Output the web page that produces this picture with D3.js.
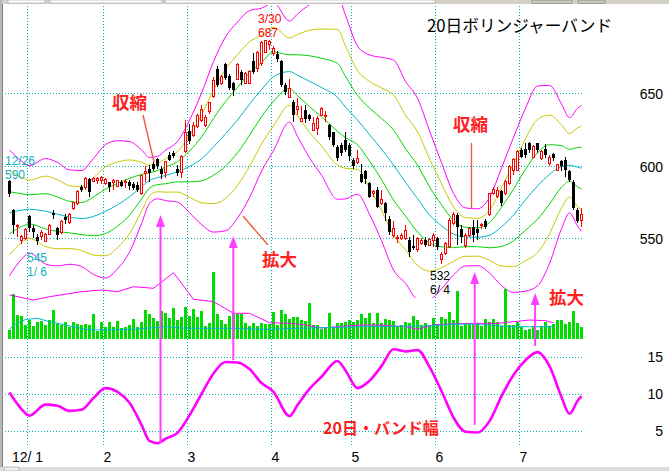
<!DOCTYPE html>
<html><head><meta charset="utf-8">
<script src="https://cdn.jsdelivr.net/npm/d3@7/dist/d3.min.js"></script>
<style>html,body{margin:0;padding:0;background:#fff;overflow:hidden}</style>
</head><body>
<svg id="c" width="669" height="471"></svg>
<script>
// ---------- data ----------
const candleOpen = [589.5,569.5,558,548,550,565,557,551,551,547.5,
552.5,567.5,557,554,564.5,561,570.5,574,585,585,
590.5,589,589.5,590,588,588.5,588.5,585.5,589,588.5,
589,587.5,587,580.5,594.5,598,601,604.5,597.5,595,
607.5,609,598,595,609.5,624,621,627,631.5,628,
637.5,647.5,667,656.5,670.5,662,657,659.5,665,657,
657,672,667,670.5,678.5,683.5,677.5,677,672,656,
647,644,639,630.5,638.5,635,624.5,626,635,634,
628,623,613,614.5,617.5,614.5,604,602,594.5,596,
588,581,583,574,574,563.5,552,550,550,550,
548.5,544.5,542,546.5,548.5,545,548.5,550,535,539.5,
544,560,566,556.5,545,552,558,556.5,558.5,561.5,
566,580.5,578.5,582.5,581,588,597,597,611,611.5,
615.5,606,615.5,605,611.5,601.5,608,597,603,604,
596,589,569.5,562.5];
const candleHigh = [590,570,560,552,557,566,559,552.5,555.5,553.5,
559.5,569.5,558,562.5,566.5,567,575,583,586.5,592.5,
591.5,592.5,592.5,593,591.5,589,591,590,590,590.5,
590,589,588.5,593.5,599.5,600.5,603,605,600,603.5,
609.5,610,600.5,607.5,631.5,629,630.5,636,642,635,
644,661.5,669,662.5,671,663.5,658,671,666,665,
666,678,679,686,687,687,683,679,673,657,
660,645.5,646.5,641,642,635.5,633.5,634,640.5,637.5,
629,623.5,614.5,615.5,623.5,615.5,605,611,601.5,597,
589,583,585.5,583,575,565.5,561.5,552,553.5,559,
551,552,551,550,551,550,553.5,551,540.5,547.5,
564,568,567,559,553.5,558,562.5,562.5,560.5,563.5,
581,585.5,585,583.5,590,600.5,605,611,612,615.5,
616.5,614.5,616,610.5,615,607.5,609,601.5,604,606,
597,590,570.5,570.5];
const candleLow = [578.5,553,551,546,549,554,550,545,549,547,
552,563,549,553,560,560,569.5,573,582,583,
578.5,588.5,587.5,587.5,586.5,581.5,583,585,585,584.5,
583,583,582,580,588.5,589,596.5,598,590.5,591.5,
603,605,593,591.5,608.5,615,620,626,630.5,627,
636,646.5,654.5,655.5,659,652.5,648,659,655.5,656.5,
656.5,663.5,665,669,677.5,680,676,671.5,654.5,649,
646.5,630.5,635,630.5,629.5,631,624,621,634.5,630.5,
617.5,613,603,606.5,609.5,603.5,598,601.5,588,587.5,
577.5,578.5,570.5,573,561.5,552,550,546.5,548.5,548.5,
537,542,540.5,545,544,544.5,544,542,532,538.5,
543,559,545,546.5,543,551,547.5,548.5,556.5,556.5,
565,580,577.5,572,580,586.5,593.5,596,605,605,
608.5,606,608.5,604,605,600,603.5,596,596,592.5,
589,569.5,560.5,558];
const candleClose = [580.5,559,559,551,556,557,554,548,554,552.5,
559,566,552,561.5,562.5,566,574.5,582.5,583,591.5,
582,591.5,591,592,590.5,585,590,589.5,586,589,
586,584.5,583,593,596,595,598,599.5,594.5,603,
604,606.5,595,606.5,623,617,628,635,638.5,633.5,
643.5,659,655.5,661.5,660.5,653.5,652.5,670,659,664,
665,664.5,678,685,686.5,686,681,673.5,655.5,651,
653,635,641,632.5,632.5,632,629,632.5,639.5,635,
620,614.5,605,609,611,606.5,599.5,605,589,591,
578.5,582,571.5,576.5,567,554.5,556.5,550.5,552,555.5,
540.5,543.5,550,548.5,545,549,552,544,538.5,546.5,
562.5,566,557.5,551,552,556.5,552,553.5,559.5,558,
580.5,583.5,583,574,589,599.5,604.5,609.5,606,607.5,
611,613,611,609.5,607.5,606,605,600.5,600,597,
590,570.5,561.5,566];
const volume = [90,450,240,230,140,190,130,173,183,140,
190,290,157,140,170,123,170,150,137,150,
137,250,83,170,117,170,123,180,107,117,
140,200,117,170,290,250,207,180,280,257,
207,310,190,217,320,230,300,223,280,133,
160,673,250,190,147,230,263,247,247,163,
133,160,133,163,153,147,270,140,290,250,
200,223,220,190,183,363,140,140,97,123,
263,123,157,157,173,190,173,190,250,207,
263,157,257,157,197,190,183,117,140,173,
157,230,190,140,157,130,207,147,217,197,
273,190,480,130,163,150,150,163,130,197,
173,197,173,130,497,140,140,173,123,90,
97,130,90,130,173,130,147,190,190,150,
173,280,163,123];
// 20-day moving average and band width (%) read at these day indices
const bandIdx = [0,3,5,9,12,15,18,21,24,27,30,33,35,37,39,42,45,48,51,54,57,60,63,66,70,72,75,78,82,84,87,90,93,96,99,102,105,108,111,114,117,120,123,126,129,132,135,138,140,142,143];
const bandMid = [567.5,569.3,569.9,568.5,566.5,564.5,563.5,565,568.5,573,578.5,585.5,589.8,591.8,593.3,595.8,599.5,604.7,613,622,631.5,642.5,652.5,661.5,665,662.5,658.3,654,647.2,640.5,631.5,621.5,611.5,600.5,588.5,577.3,566,558.5,552.8,550.8,550.6,552,557.8,566,576.5,586,594,599.5,600.3,599,598.3];
const bandWidth = [10.2,7.95,7.05,8.55,8.4,7.7,7.85,9.45,10.8,10.3,8.8,5.8,3.6,3.3,3.9,4.7,7.1,10.0,12.8,14.35,14.3,13.4,11.5,10.3,7.0,8.5,10.7,12.35,14.5,13.2,10.8,11.8,13.8,16.1,15.8,16.0,13.7,10.4,6.8,4.85,4.75,6.3,9.7,12.6,14.6,15.7,13.8,9.6,7.3,9.05,9.7];
// volume average lines
const volMagIdx = [0,6,10,18,23,27,31,36,41,46,49,51,56,60,65,70,74,78,84,88,92,96,99,102,106,110,115,118,122,126,130,134,136];
const volMag = [440,390,423,473,490,473,523,507,663,397,383,373,257,257,163,157,140,110,130,140,140,130,123,97,140,150,157,157,157,173,190,183,163];
const volCyanIdx = [0,1,4,7,10,14,19,23,31,39,44,56,64,72,88,104,113,118,125,130,136];
const volCyan = [97,140,195,207,173,140,97,90,97,123,107,107,97,107,123,130,150,147,123,123,123];
// axes
const monthLabels = ["12/ 1","2","3","4","5","6","7"];
const monthStartIdx = [5,24,45,66,86,107,128];
const priceTicks = [550,600,650];
const bwTicks = [5,10,15];

// ---------- drawing ----------
const N = candleOpen.length;
const svg = d3.select("#c");
const x = d3.scaleLinear().domain([0,143]).range([9.5,581.5]);
const yP = d3.scaleLinear().domain([600,650]).range([165.7,93.3]);
const yB = d3.scaleLinear().domain([5,15]).range([430.7,357.3]);
const yV = d3.scaleLinear().domain([0,700]).range([339,269]);

svg.append("rect").attr("width",669).attr("height",471).attr("fill","#fff");

// window chrome
svg.append("rect").attr("x",0).attr("y",0).attr("width",669).attr("height",4).attr("fill","#d4d0c8");
[[8,37],[50,112],[165,270]].forEach(([a,w])=>svg.append("rect").attr("x",a).attr("y",0).attr("width",w).attr("height",3).attr("fill","#fff").attr("stroke","#a0a0a0").attr("stroke-width",0.6));
[[532,40],[578,27]].forEach(([a,w])=>svg.append("rect").attr("x",a).attr("y",0).attr("width",w).attr("height",3.5).attr("fill","#c8c4bc").attr("stroke","#808080").attr("stroke-width",0.6));
svg.append("rect").attr("x",0).attr("y",0).attr("width",2).attr("height",471).attr("fill","#b8b8b8");
svg.append("line").attr("x1",2.5).attr("x2",2.5).attr("y1",4).attr("y2",467).attr("stroke","#808080");
svg.append("rect").attr("x",0).attr("y",467).attr("width",669).attr("height",4).attr("fill","#dcdcdc");
svg.append("rect").attr("x",4).attr("y",467).attr("width",15).attr("height",4).attr("fill","#eee").attr("stroke","#999").attr("stroke-width",0.6);

// grid
const grid = svg.append("g").attr("stroke","#00b4b4").attr("stroke-dasharray","1,2").attr("stroke-width",1).attr("shape-rendering","crispEdges");
priceTicks.forEach(t=>{const yy=Math.round(yP(t))+0.5;grid.append("line").attr("x1",5).attr("x2",584).attr("y1",yy).attr("y2",yy);});
bwTicks.forEach(t=>{const yy=Math.round(yB(t))+0.5;grid.append("line").attr("x1",5).attr("x2",584).attr("y1",yy).attr("y2",yy);});
monthStartIdx.forEach(i=>{const xx=x(i-0.5);grid.append("line").attr("x1",xx).attr("x2",xx).attr("y1",6).attr("y2",447);});

// clip for price panel
svg.append("clipPath").attr("id","pc").append("rect").attr("x",4).attr("y",5).attr("width",582).attr("height",293);

// Bollinger bands
const bandsG = svg.append("g").attr("clip-path","url(#pc)").attr("fill","none").attr("stroke-width",1);
const bandDefs = [{k:3,c:"#ff00ff"},{k:2,c:"#c8c800"},{k:1,c:"#00d400"},{k:0,c:"#00b4c8"},{k:-1,c:"#00d400"},{k:-2,c:"#c8c800"},{k:-3,c:"#ff00ff"}];
const pLine = d3.line().x(d=>x(d[0])).y(d=>yP(d[1])).curve(d3.curveMonotoneX);
bandDefs.forEach(b=>{
  const pts = bandIdx.map((i,j)=>[i, bandMid[j] + b.k*bandWidth[j]*bandMid[j]/400]);
  bandsG.append("path").attr("d",pLine(pts)).attr("stroke",b.c);
});

// candles
const cg = svg.append("g").attr("shape-rendering","crispEdges");
d3.range(N).forEach(i=>{
  const o=candleOpen[i], c=candleClose[i], up=c>=o, col=up?"#ff0000":"#000000", cx=x(i);
  cg.append("line").attr("x1",cx).attr("x2",cx).attr("y1",yP(candleHigh[i])).attr("y2",yP(candleLow[i])).attr("stroke",col);
  const top=yP(Math.max(o,c)), bot=yP(Math.min(o,c)), h=Math.max(bot-top,1);
  if(up) cg.append("rect").attr("x",cx-1).attr("y",top).attr("width",2).attr("height",h).attr("fill","#fff").attr("stroke",col);
  else cg.append("rect").attr("x",cx-1.5).attr("y",top).attr("width",3).attr("height",h).attr("fill",col);
});

// volume
const vg = svg.append("g").attr("shape-rendering","crispEdges");
vg.selectAll("rect").data(volume).join("rect")
  .attr("x",(d,i)=>x(i)-1.5).attr("width",3)
  .attr("y",d=>yV(d)).attr("height",d=>yV(0)-yV(d)).attr("fill","#00dc00");
const vLine = d3.line().x(d=>x(d[0])).y(d=>yV(d[1]));
svg.append("path").attr("d",vLine(volMagIdx.map((i,j)=>[i,volMag[j]]))).attr("fill","none").attr("stroke","#ff00ff").attr("stroke-width",1);
svg.append("path").attr("d",vLine(volCyanIdx.map((i,j)=>[i,volCyan[j]]))).attr("fill","none").attr("stroke","#00b4d0").attr("stroke-width",1);

// band width line
const bLine = d3.line().x(d=>x(d[0])).y(d=>yB(d[1])).curve(d3.curveMonotoneX);
svg.append("path").attr("d",bLine(bandIdx.map((i,j)=>[i,bandWidth[j]]))).attr("fill","none").attr("stroke","#ff00ff").attr("stroke-width",2.6);

// right axes
const axFont = g=>{g.select(".domain").remove();g.selectAll("text").attr("font-family","'Liberation Sans',Arial,sans-serif").attr("font-size",14).attr("fill","#000");};
svg.append("g").attr("transform","translate(663,1)").call(d3.axisLeft(yP).tickValues(priceTicks).tickSize(0).tickPadding(0)).call(axFont);
svg.append("g").attr("transform","translate(663,0)").call(d3.axisLeft(yB).tickValues(bwTicks).tickSize(0).tickPadding(0)).call(axFont);

// month labels
monthLabels.forEach((t,k)=>{
  const xx = x(monthStartIdx[k]-0.5);
  svg.append("text").attr("x", xx).attr("y",462)
    .attr("text-anchor", k===0?"middle":"start")
    .attr("font-family","'Liberation Sans',Arial,sans-serif").attr("font-size",14).text(t);
});

// high/low labels
const lf = "'Liberation Sans',Arial,sans-serif";
function lab(t,xx,yy,col){svg.append("text").attr("x",xx).attr("y",yy).attr("font-family",lf).attr("font-size",12).attr("fill",col).text(t);}
lab("12/26", 5, yP(590)-15.5, "#10b0c0");
lab("590", 5, yP(590)-1.5, "#10b0c0");
lab("545", x(7)-10.5, yP(545)+16.5, "#10b0c0");
lab("1/ 6", x(7)-10.5, yP(545)+30.5, "#10b0c0");
lab("3/30", x(65)-11.5, yP(687)-16.5, "#ff0000");
lab("687", x(65)-11.5, yP(687)-2.5, "#ff0000");
lab("532", x(108)-11.5, yP(532)+15.5, "#000");
lab("6/ 4", x(108)-11.5, yP(532)+29.5, "#000");

// annotation pointers
const ptr = svg.append("g").attr("stroke","#f05a40").attr("stroke-width",1.4);
ptr.append("line").attr("x1",143).attr("y1",115).attr("x2",154).attr("y2",162);
ptr.append("line").attr("x1",471.5).attr("y1",143).attr("x2",471.5).attr("y2",208);
ptr.append("line").attr("x1",243).attr("y1",216).attr("x2",268).attr("y2",245);

// magenta arrows (band width -> price band)
const arrows = [{i:37.75,bw:3.3,p:566},{i:55.95,bw:14.6,p:551.5},{i:116.3,bw:5.8,p:526.6},{i:131.4,bw:16.55,p:512}];
const ag = svg.append("g").attr("fill","#ff40ff").attr("stroke","#ff40ff");
arrows.forEach(a=>{
  const xx=x(a.i), y1=yB(a.bw), y2=yP(a.p);
  ag.append("line").attr("x1",xx).attr("x2",xx).attr("y1",y1).attr("y2",y2+8).attr("stroke-width",2);
  ag.append("path").attr("d",`M${xx},${y2} L${xx-4.5},${y2+12} L${xx+4.5},${y2+12} Z`).attr("stroke","none");
});

// annotation texts
const jf = "'Noto Sans CJK JP','Noto Sans CJK SC',sans-serif";
function jt(t,xx,yy,size,col,wt){svg.append("text").attr("x",xx).attr("y",yy).attr("font-family",jf).attr("font-size",size).attr("font-weight",wt).attr("fill",col).text(t);}
jt("20日ボリンジャーバンド",427,32,16.7,"#000","normal");
jt("収縮",112,108.5,17.5,"#ff2020","bold");
jt("収縮",453,131,17.5,"#ff2020","bold");
jt("拡大",262,265.5,17.5,"#ff2020","bold");
jt("拡大",549,303.5,17.5,"#ff2020","bold");
jt("20日・バンド幅",323,433.5,16,"#ff2020","bold");
</script>
</body></html>
